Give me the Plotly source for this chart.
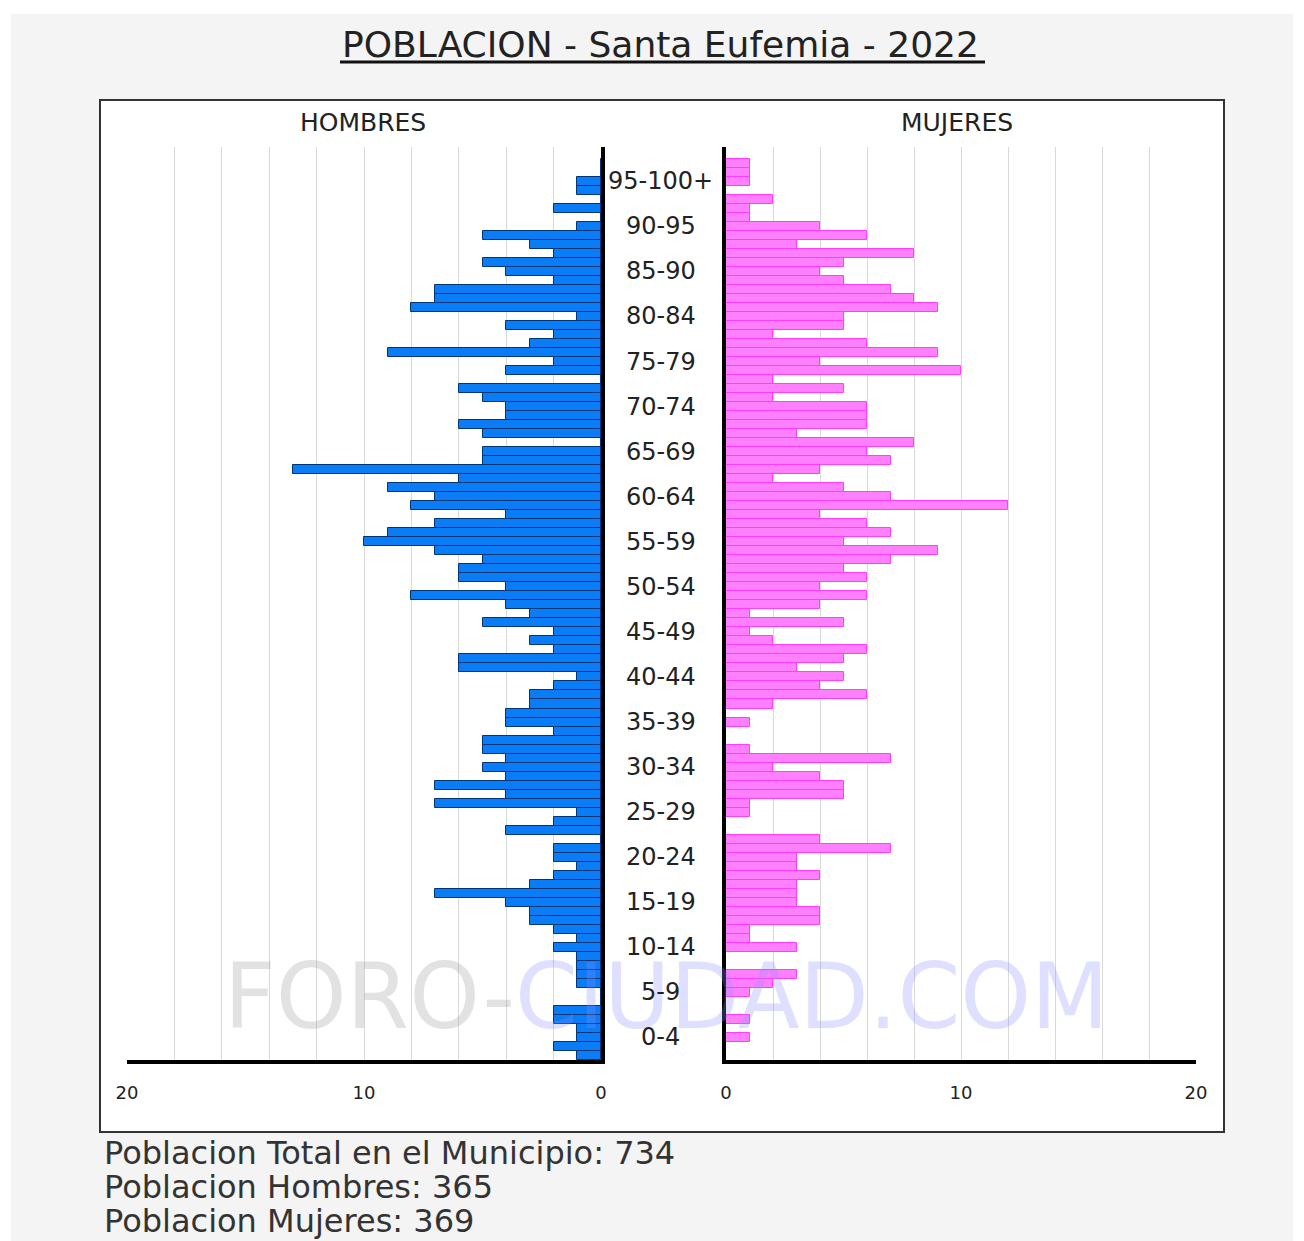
import plotly.graph_objects as go

# ---------------- data ----------------
ages = list(range(0, 100))
hombres = [1, 2, 1, 1, 2, 2, 0, 0, 1, 1,
           1, 1, 2, 1, 2, 3, 3, 4, 7, 3,
           2, 1, 2, 2, 0, 4, 2, 1, 7, 4,
           7, 4, 5, 4, 5, 5, 2, 4, 4, 3,
           3, 2, 1, 6, 6, 2, 3, 2, 5, 3,
           4, 8, 4, 6, 6, 5, 7, 10, 9, 7,
           4, 8, 7, 9, 6, 13, 5, 5, 0, 5,
           6, 4, 4, 5, 6, 0, 4, 2, 9, 3,
           2, 4, 1, 8, 7, 7, 2, 4, 5, 2,
           3, 5, 1, 0, 2, 0, 1, 1, 0, 0]
mujeres = [0, 0, 1, 0, 1, 0, 0, 1, 2, 3,
           0, 0, 3, 1, 1, 4, 4, 3, 3, 3,
           4, 3, 3, 7, 4, 0, 0, 1, 1, 5,
           5, 4, 2, 7, 1, 0, 0, 1, 0, 2,
           6, 4, 5, 3, 5, 6, 2, 1, 5, 1,
           4, 6, 4, 6, 5, 7, 9, 5, 7, 6,
           4, 12, 7, 5, 2, 4, 7, 6, 8, 3,
           6, 6, 6, 2, 5, 2, 10, 4, 9, 6,
           2, 5, 5, 9, 8, 7, 5, 4, 5, 8,
           3, 6, 4, 1, 1, 2, 0, 1, 1, 1]
group_label_texts = ["0-4", "5-9", "10-14", "15-19", "20-24", "25-29", "30-34",
                     "35-39", "40-44", "45-49", "50-54", "55-59", "60-64", "65-69",
                     "70-74", "75-79", "80-84", "85-90", "90-95", "95-100+"]
group_centers = [2 + 5 * i for i in range(len(group_label_texts))]
x_tickvals = list(range(0, 21, 2))
x_ticktext = ["0", "", "", "", "", "10", "", "", "", "", "20"]

title_text = "POBLACION - Santa Eufemia - 2022"
total_h = sum(hombres)
total_m = sum(mujeres)

# ---------------- layout helpers ----------------
H = 1241
X0, XW = 11, 1282   # horizontal placement of the rendered page in the picture
def px(x):
    return min(1.0, max(0.0, (x - X0) / XW))
def py(y):
    return 1 - y / H

FONT = "DejaVu Sans"
BLUE_FILL = "#0a7cf5"
BLUE_LINE = "#00357a"
PINK_FILL = "#ff80ff"
PINK_LINE = "#ff3cff"
GRID = "#d9d9d9"

fig = go.Figure()

fig.add_trace(go.Bar(
    y=ages, x=hombres, orientation="h", width=1,
    marker=dict(color=BLUE_FILL, line=dict(color=BLUE_LINE, width=1)),
    xaxis="x", yaxis="y", name="Hombres", showlegend=False,
))
fig.add_trace(go.Bar(
    y=ages, x=mujeres, orientation="h", width=1,
    marker=dict(color=PINK_FILL, line=dict(color=PINK_LINE, width=1)),
    xaxis="x2", yaxis="y2", name="Mujeres", showlegend=False,
))

ydom = [py(1060), py(147)]
yrange = [-0.5, 100.8]

axis_common = dict(
    tickvals=x_tickvals, ticktext=x_ticktext,
    showgrid=True, gridcolor=GRID, gridwidth=1,
    zeroline=False, showline=True, linecolor="black", linewidth=4,
    ticks="", tickfont=dict(family=FONT, size=18, color="#222"),
    ticklabelstandoff=13, fixedrange=True,
)

fig.update_layout(
    autosize=True,
    margin=dict(l=0, r=0, t=0, b=0, pad=0),
    paper_bgcolor="white", plot_bgcolor="rgba(0,0,0,0)",
    bargap=0,
    xaxis=dict(domain=[px(127), px(601)], range=[20, 0], anchor="y", **axis_common),
    xaxis2=dict(domain=[px(726), px(1196)], range=[0, 20], anchor="y2", **axis_common),
    yaxis=dict(domain=ydom, range=yrange, anchor="x", side="right",
               showline=True, linecolor="black", linewidth=4,
               showgrid=False, zeroline=False, showticklabels=False, ticks="",
               fixedrange=True),
    yaxis2=dict(domain=ydom, range=yrange, anchor="x2", side="left",
                matches="y",
                showline=True, linecolor="black", linewidth=4,
                showgrid=False, zeroline=False, showticklabels=False, ticks="",
                fixedrange=True),
    font=dict(family=FONT, color="#222"),
)

shapes = [
    dict(type="rect", xref="paper", yref="paper", layer="below",
         x0=0, x1=1, y0=0, y1=py(14),
         fillcolor="#f4f4f4", line=dict(width=0)),
    dict(type="rect", xref="paper", yref="paper", layer="below",
         x0=px(100), x1=px(1224), y0=py(1132), y1=py(100),
         fillcolor="white", line=dict(color="#333", width=2)),
    dict(type="line", xref="paper", yref="paper",
         x0=px(340), x1=px(985), y0=py(62), y1=py(62),
         line=dict(color="#111", width=3)),
]
fig.update_layout(shapes=shapes)

annotations = [
    dict(text=title_text, x=px(661), y=py(44), xref="paper", yref="paper",
         showarrow=False, xanchor="center", yanchor="middle",
         font=dict(family=FONT, size=36, color="#222")),
    dict(text="HOMBRES", x=px(363), y=py(123), xref="paper", yref="paper",
         showarrow=False, xanchor="center", yanchor="middle",
         font=dict(family=FONT, size=25, color="#222")),
    dict(text="MUJERES", x=px(957), y=py(123), xref="paper", yref="paper",
         showarrow=False, xanchor="center", yanchor="middle",
         font=dict(family=FONT, size=25, color="#222")),
    dict(text="<span style='color:rgba(150,150,150,0.28)'>FORO-</span>"
              "<span style='color:rgba(140,140,255,0.28)'>CIUDAD.COM</span>",
         x=px(666), y=py(996), xref="paper", yref="paper",
         showarrow=False, xanchor="center", yanchor="middle",
         font=dict(family=FONT, size=90)),
]
for c, t in zip(group_centers, group_label_texts):
    annotations.append(dict(text=t, x=px(661), y=c, xref="paper", yref="y",
                            showarrow=False, xanchor="center", yanchor="middle",
                            font=dict(family=FONT, size=24, color="#222")))

footer = [
    f"Poblacion Total en el Municipio: {total_h + total_m}",
    f"Poblacion Hombres: {total_h}",
    f"Poblacion Mujeres: {total_m}",
]
for i, t in enumerate(footer):
    annotations.append(dict(text=t, x=px(102), y=py(1153 + 34 * i),
                            xref="paper", yref="paper", showarrow=False,
                            xanchor="left", yanchor="middle",
                            font=dict(family=FONT, size=32, color="#333")))
fig.update_layout(annotations=annotations)

fig.write_html(
    "out.html",
    default_width="100vw",
    default_height="100vh",
    config={"displayModeBar": False, "responsive": True},
    post_script=("document.documentElement.style.overflow='hidden';"
                 "document.body.style.margin='0';"
                 "document.body.style.overflow='hidden';"),
)
